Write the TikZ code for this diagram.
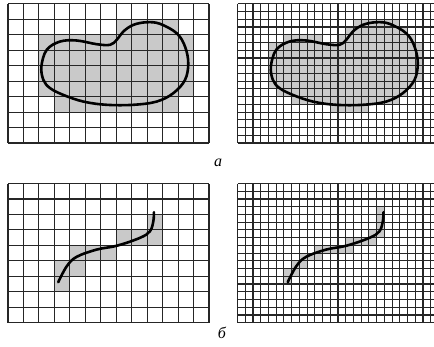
\documentclass[tikz,border=0pt]{standalone}
\usepackage{fontspec}
\setmainfont{Liberation Serif}
\begin{document}
\begin{tikzpicture}[x=1pt,y=1pt,
	gridline/.style={black!85,line width=1.1pt},
	contour/.style={black,line width=2.6pt,line cap=round,line join=round},
	cell/.style={fill=black!21}]
	
	\useasboundingbox (0,0) rectangle (434,347);
	
	% a, coarse grid
	\begin{scope}[shift={(8,204)},x=15.46pt,y=15.46pt]
		\fill[cell] (7,7) rectangle (11,8) (2,3) rectangle (12,7) (3,2) rectangle (11,3);
		\foreach \i in {0,...,13} \draw[gridline] (\i,0) -- (\i,9);
		\foreach \j in {0,...,9} \draw[gridline] (0,\j) -- (13,\j);
		\draw[contour] plot[smooth cycle,tension=0.6] coordinates {(2.16,4.95) (2.50,6.02) (3.36,6.56) (4.44,6.63) (5.74,6.39) (6.60,6.35) (7.03,6.67) (7.46,7.21) (8.11,7.64) (8.97,7.81) (9.83,7.71) (10.91,7.10) (11.45,6.24) (11.66,5.16) (11.45,4.08) (10.69,3.22) (9.62,2.68) (8.11,2.47) (6.38,2.47) (4.87,2.68) (3.58,3.11) (2.72,3.55) (2.29,4.08)};
	\end{scope}
	
	% a, fine grid
	\begin{scope}[shift={(237.5,204)},x=15.46pt,y=15.46pt]
		\fill[cell] (7.5,7.5) rectangle (10.5,8) (7,7) rectangle (11,7.5)
			(3,6.5) rectangle (5.5,7) (6.5,6.5) rectangle (11.5,7)
			(2,4) rectangle (12,6.5) (2,3.5) rectangle (11.5,4)
			(2.5,3) rectangle (11,3.5) (3.5,2.5) rectangle (10.5,3) (6,2) rectangle (8.5,2.5);
		\foreach \i in {0,0.5,...,13} \draw[gridline] (\i,0) -- (\i,9);
		\foreach \j in {0,0.5,...,9} \draw[gridline] (0,\j) -- (13,\j);
		\draw[contour] plot[smooth cycle,tension=0.6] coordinates {(2.16,4.95) (2.50,6.02) (3.36,6.56) (4.44,6.63) (5.74,6.39) (6.60,6.35) (7.03,6.67) (7.46,7.21) (8.11,7.64) (8.97,7.81) (9.83,7.71) (10.91,7.10) (11.45,6.24) (11.66,5.16) (11.45,4.08) (10.69,3.22) (9.62,2.68) (8.11,2.47) (6.38,2.47) (4.87,2.68) (3.58,3.11) (2.72,3.55) (2.29,4.08)};
	\end{scope}
	
	% b, coarse grid
	\begin{scope}[shift={(8,24.3)},x=15.46pt,y=15.46pt]
		\fill[cell] (9,6) rectangle (10,7) (7,5) rectangle (10,6) (4,4) rectangle (7,5) (3,3) rectangle (5,4) (3,2) rectangle (4,3);
		\foreach \i in {0,...,13} \draw[gridline] (\i,0) -- (\i,9);
		\foreach \j in {0,...,9} \draw[gridline] (0,\j) -- (13,\j);
		\draw[contour] plot[smooth,tension=0.6] coordinates {(3.25,2.62) (3.80,3.65) (4.44,4.26) (5.74,4.73) (7.05,4.98) (8.54,5.49) (9.18,5.91) (9.40,6.56) (9.44,7.15)};
	\end{scope}
	
	% b, fine grid
	\begin{scope}[shift={(237.5,24.3)},x=15.46pt,y=15.46pt]
		\fill[cell] (3,2.5) rectangle (3.5,3.5) (3.5,3) rectangle (4,4) (4,3.5) rectangle (4.5,4.5)
			(4.5,4) rectangle (5.5,4.5) (5,4.5) rectangle (7.5,5) (7,5) rectangle (9,5.5)
			(8.5,5.5) rectangle (9.5,6) (9,6) rectangle (9.5,7.5);
		\foreach \i in {0,0.5,...,13} \draw[gridline] (\i,0) -- (\i,9);
		\foreach \j in {0,0.5,...,9} \draw[gridline] (0,\j) -- (13,\j);
		\draw[contour] plot[smooth,tension=0.6] coordinates {(3.25,2.62) (3.80,3.65) (4.44,4.26) (5.74,4.73) (7.05,4.98) (8.54,5.49) (9.18,5.91) (9.40,6.56) (9.44,7.15)};
	\end{scope}
	
	\node[font=\fontsize{16}{18}\selectfont\itshape] (lbla) at (218,184) {а};
	\node[font=\fontsize{16}{18}\selectfont\itshape] (lblb) at (222,14) {б};
	
\end{tikzpicture}
\end{document}
